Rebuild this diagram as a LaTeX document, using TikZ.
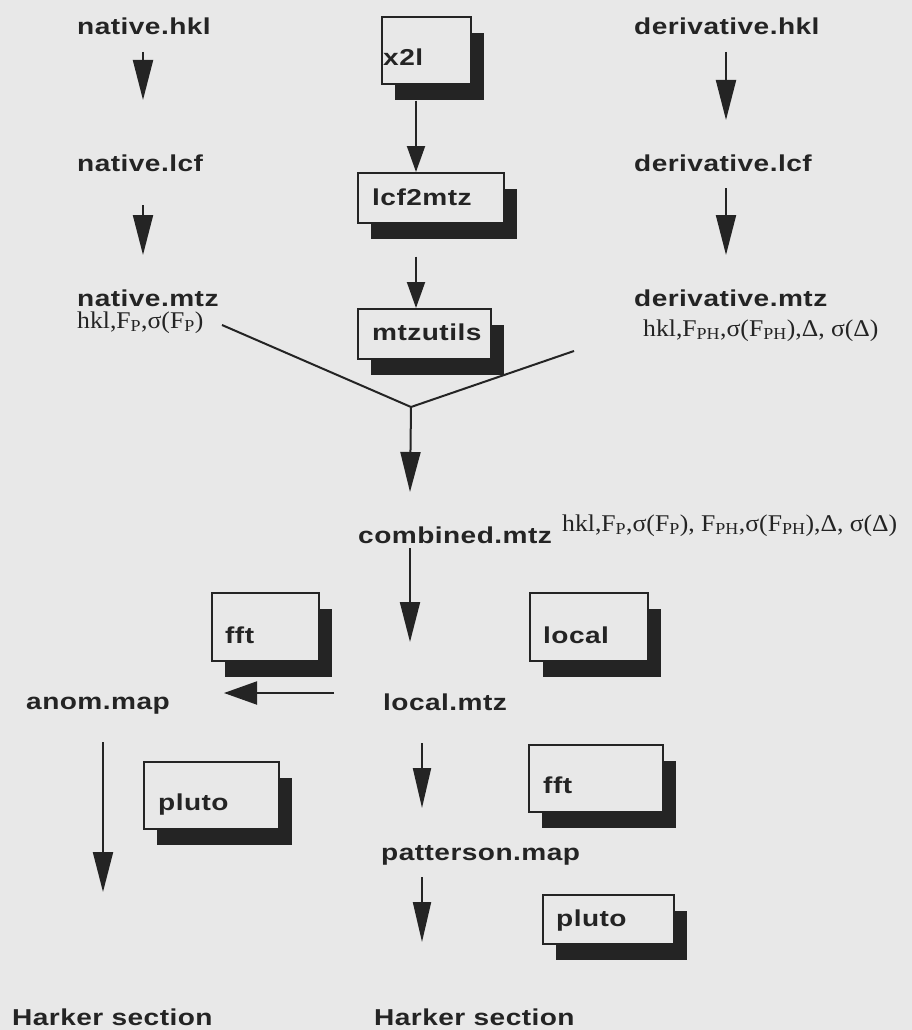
\documentclass[tikz,border=0pt]{standalone}
\usepackage{fontspec}
\setmainfont{Liberation Serif}[FakeStretch=1.07]
\newfontfamily\lbl{Liberation Sans}[FakeStretch=1.22,LetterSpace=2]
\usetikzlibrary{arrows.meta,calc,shadows}
\definecolor{bg}{RGB}{232,232,232}
\definecolor{ink}{RGB}{36,36,36}
\begin{document}
\begin{tikzpicture}[x=1pt,y=-1pt,
  lab/.style={anchor=base west,inner sep=0pt,font=\fontsize{23}{23}\lbl\bfseries,text=ink},
  ser/.style={anchor=base west,inner sep=0pt,font=\fontsize{24}{24}\selectfont,text=ink},
  box/.style={draw=ink,line width=1.6pt,fill=bg,anchor=north west,inner sep=0pt,
    drop shadow={shadow xshift=13pt,shadow yshift=-16.5pt,fill=ink,opacity=1}},
  con/.style={draw=ink,line width=2pt},
  arr/.style={con,-{Triangle[length=40pt,width=20pt]}},
  arrs/.style={con,-{Triangle[length=26pt,width=18pt]}},
]
\fill[bg] (0,0) rectangle (912,1030);
\useasboundingbox (0,0) rectangle (912,1030);

% left column
\node[lab] (nhkl) at (77,35) {native.hkl};
\node[lab] (nlcf) at (77,171) {native.lcf};
\node[lab] (nmtz) at (77,306) {native.mtz};
\node[ser] (nlab) at (77,328) {hkl,F\textsubscript{P},σ(F\textsubscript{P})};

% right column
\node[lab] (dhkl) at (634,35) {derivative.hkl};
\node[lab] (dlcf) at (634,171) {derivative.lcf};
\node[lab] (dmtz) at (634,306) {derivative.mtz};
\node[ser] (dlab) at (643,336) {hkl,F\textsubscript{PH},σ(F\textsubscript{PH}),Δ, σ(Δ)};

% centre boxes
\node[box,minimum width=89pt,minimum height=67pt] (x2l) at (381,16) {};
\node[lab] (x2lt) at (383,66) {x2l};
\node[box,minimum width=146pt,minimum height=50pt] (lcf) at (357,172) {};
\node[lab] (lcft) at (372,205) {lcf2mtz};
\node[box,minimum width=133pt,minimum height=50pt] (mtzu) at (357,308) {};
\node[lab] (mtzut) at (372,340) {mtzutils};

\coordinate (mg) at (411,407);
\node[lab] (comb) at (358,543) {combined.mtz};
\node[ser] (clab) at (562,531) {hkl,F\textsubscript{P},σ(F\textsubscript{P}), F\textsubscript{PH},σ(F\textsubscript{PH}),Δ, σ(Δ)};

% lower part
\node[box,minimum width=107pt,minimum height=68pt] (fftl) at (211,592) {};
\node[lab] (fftlt) at (225,643) {fft};
\node[box,minimum width=118pt,minimum height=68pt] (loc) at (529,592) {};
\node[lab] (loct) at (543,643) {local};
\node[lab] (anom) at (26,709) {anom.map};
\node[lab] (lmtz) at (383,710) {local.mtz};
\node[box,minimum width=134pt,minimum height=67pt] (fftr) at (528,744) {};
\node[lab] (fftrt) at (543,793) {fft};
\node[box,minimum width=135pt,minimum height=67pt] (plul) at (143,761) {};
\node[lab] (plult) at (158,810) {pluto};
\node[lab] (patt) at (381,860) {patterson.map};
\node[box,minimum width=131pt,minimum height=49pt] (plur) at (542,894) {};
\node[lab] (plurt) at (556,926) {pluto};
\node[lab] (hk1) at (12,1025) {Harker section};
\node[lab] (hk2) at (374,1025) {Harker section};

% connectors
\draw[arr] ($(nhkl.base west)+(66,17)$) -- ($(nlcf.base west)+(66,-71)$);
\draw[arr] ($(nlcf.base west)+(66,34)$) -- ($(nmtz.base west)+(66,-51)$);
\draw[arr] ($(dhkl.base west)+(92,17)$) -- ($(dlcf.base west)+(92,-51)$);
\draw[arr] ($(dlcf.base west)+(92,17)$) -- ($(dmtz.base west)+(92,-51)$);
\draw[arrs] ($(x2l.south west)+(35,16)$) -- ($(lcf.north west)+(59,0)$);
\draw[arrs] ($(lcf.south west)+(59,33)$) -- ($(mtzu.north west)+(59,0)$);
\draw[con] ($(nlab.base west)+(145,-3)$) -- (mg);
\draw[con] ($(dlab.base west)+(-69,15)$) -- (mg);
\draw[arr] (mg) -- ($(comb.base west)+(52,-51)$);
\draw[arr] ($(comb.base west)+(52,5)$) -- ($(lmtz.base west)+(27,-68)$);
\draw[con,-{Triangle[length=33pt,width=23pt]}] ($(lmtz.base west)+(-49,-17)$) -- ($(anom.base west)+(198,-16)$);
\draw[con,-{Triangle[length=40pt,width=18pt]}] ($(lmtz.base west)+(39,33)$) -- ($(patt.base west)+(41,-52)$);
\draw[con,-{Triangle[length=40pt,width=18pt]}] ($(patt.base west)+(41,17)$) -- ($(hk2.base west)+(48,-83)$);
\draw[arr] ($(anom.base west)+(77,33)$) -- ($(hk1.base west)+(91,-133)$);
\end{tikzpicture}
\end{document}
